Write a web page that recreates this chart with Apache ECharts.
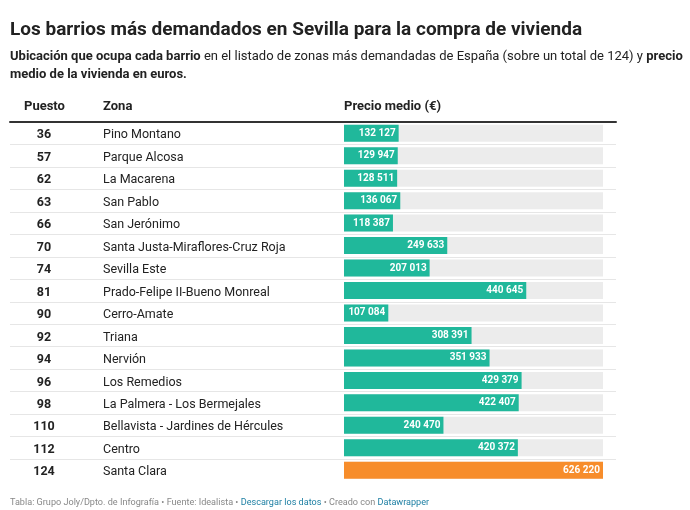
<!DOCTYPE html>
<html>
<head>
<meta charset="utf-8">
<script src="https://cdn.jsdelivr.net/npm/echarts@6/dist/echarts.min.js"></script>
<style>
html,body{margin:0;padding:0;background:#fff;}
#c{width:690px;height:510px;}
</style>
</head>
<body>
<div id="c"></div>
<script>
const puesto = ['36','57','62','63','66','70','74','81','90','92','94','96','98','110','112','124'];
const zonas = ['Pino Montano','Parque Alcosa','La Macarena','San Pablo','San Jerónimo','Santa Justa-Miraflores-Cruz Roja','Sevilla Este','Prado-Felipe II-Bueno Monreal','Cerro-Amate','Triana','Nervión','Los Remedios','La Palmera - Los Bermejales','Bellavista - Jardines de Hércules','Centro','Santa Clara'];
const precios = [132127,129947,128511,136067,118387,249633,207013,440645,107084,308391,351933,429379,422407,240470,420372,626220];
const highlight = 'Santa Clara';

const FONT = 'Roboto';
const fmt = v => String(v).replace(/\B(?=(\d{3})+(?!\d))/g, ' ');

const chart = echarts.init(document.getElementById('c'), null, {renderer:'canvas'});
chart.setOption({
  backgroundColor:'#fff',
  animation:false,
  textStyle:{fontFamily:FONT},
  title:[
    {text:'Los barrios más demandados en Sevilla para la compra de vivienda', left:10, top:21, padding:0,
     textStyle:{fontFamily:FONT, fontSize:19, fontWeight:'bold', color:'#222'}},
    {text:'{b|Ubicación que ocupa cada barrio}{n| en el listado de zonas más demandadas de España (sobre un total de 124) y }{b|precio}\n{b|medio de la vivienda en euros.}',
     left:10, top:48, padding:0,
     textStyle:{fontFamily:FONT, fontSize:13, fontWeight:'normal', lineHeight:18, color:'#222',
       rich:{b:{fontFamily:FONT, fontSize:13, fontWeight:'bold', color:'#222', lineHeight:18},
             n:{fontFamily:FONT, fontSize:13, fontWeight:'normal', color:'#222', lineHeight:18}}}},
    {text:'Puesto', left:24, top:100, padding:0, textStyle:{fontFamily:FONT, fontSize:13, fontWeight:'bold', color:'#222'}},
    {text:'Zona', left:103, top:100, padding:0, textStyle:{fontFamily:FONT, fontSize:13, fontWeight:'bold', color:'#222'}},
    {text:'Precio medio (€)', left:344, top:100, padding:0, textStyle:{fontFamily:FONT, fontSize:13, fontWeight:'bold', color:'#222'}},
    {text:'{g|Tabla: Grupo Joly/Dpto. de Infografía • Fuente: Idealista • }{l|Descargar los datos}{g| • Creado con }{l|Datawrapper}',
     left:10, top:497, padding:0,
     textStyle:{fontFamily:FONT, fontSize:9.1, fontWeight:'normal', lineHeight:12,
       rich:{g:{fontFamily:FONT, fontSize:9.1, fontWeight:'normal', color:'#888', lineHeight:12},
             l:{fontFamily:FONT, fontSize:9.1, fontWeight:'normal', color:'#1d7fa3', lineHeight:12}}}}
  ],
  grid:[
    {left:344, right:87, top:122, bottom:28.5, containLabel:false},
    {left:10, right:74, top:122, bottom:28.5, containLabel:false}
  ],
  xAxis:[
    {gridIndex:0, type:'value', min:0, max:Math.max(...precios), show:false},
    {gridIndex:1, type:'value', min:0, max:1, position:'top',
     axisLine:{show:true, onZero:false, lineStyle:{color:'#333', width:2}},
     axisTick:{show:false}, axisLabel:{show:false}, splitLine:{show:false}}
  ],
  yAxis:[
    {gridIndex:0, type:'category', data:zonas, inverse:true,
     axisLine:{show:false}, axisTick:{show:false}, splitLine:{show:false},
     axisLabel:{align:'left', margin:241, formatter:'{a|{value}}',
       rich:{a:{padding:[4,0,0,0], fontFamily:FONT, fontSize:12.5, color:'#222'}}}},
    {gridIndex:1, type:'category', data:puesto, inverse:true,
     axisLine:{show:false}, axisTick:{show:false},
     splitLine:{show:true, showMinLine:false, showMaxLine:false, lineStyle:{color:'#e6e6e6', width:1}},
     axisLabel:{align:'center', margin:-34, formatter:'{a|{value}}',
       rich:{a:{padding:[4,0,0,0], fontFamily:FONT, fontSize:12.5, fontWeight:'bold', color:'#222'}}}}
  ],
  series:[
    {type:'bar', xAxisIndex:0, yAxisIndex:0, data:precios, barWidth:17,
     showBackground:true, backgroundStyle:{color:'#ececec'},
     itemStyle:{color:(p)=> zonas[p.dataIndex]===highlight ? '#f78d2b' : '#20b89b'},
     label:{show:true, position:'insideRight', distance:3, color:'#fff', fontFamily:FONT, fontSize:10, fontWeight:'bold',
       formatter:(p)=>fmt(p.value)}},
    {type:'bar', xAxisIndex:1, yAxisIndex:1, data:[], silent:true}
  ]
});
</script>
</body>
</html>
